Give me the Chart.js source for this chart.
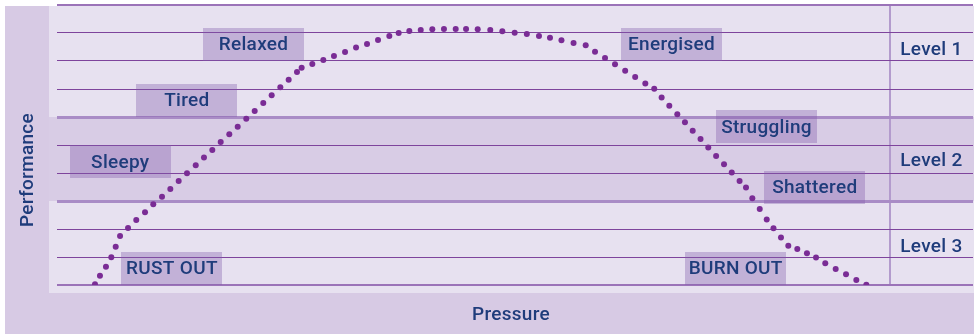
<!DOCTYPE html>
<html>
<head>
<meta charset="utf-8">
<title>Pressure and performance</title>
<script src="https://cdn.jsdelivr.net/npm/chart.js@4.4.1/dist/chart.umd.min.js"></script>
<style>
  html, body { margin: 0; padding: 0; background: #ffffff; }
  #wrap { width: 977px; height: 334px; position: relative; }
</style>
</head>
<body>
<div id="wrap"><canvas id="chart" width="977" height="334"></canvas></div>
<script>
// Pressure / performance curve (dotted), read as x = pressure, y = performance
const curveX = [
  4.56, 5.16, 5.88, 6.52, 7.05, 7.57, 8.53, 9.52, 10.57, 11.56,
  12.61, 13.61, 14.61, 15.61, 16.66, 17.65, 18.65, 19.66, 20.69, 21.70,
  22.73, 23.74, 24.77, 25.78, 26.82, 27.82, 28.82, 29.38, 30.66, 31.98,
  33.26, 34.59, 35.91, 37.23, 38.55, 39.91, 41.03, 42.31, 43.68, 45.07,
  46.47, 47.88, 49.12, 50.52, 52.03, 53.48, 54.96, 56.42, 57.88, 59.20,
  60.58, 62.03, 63.49, 64.61, 65.81, 67.01, 68.23, 69.43, 70.65, 71.72,
  72.61, 73.53, 74.49, 75.41, 76.34, 77.28, 78.21, 79.15, 80.10, 81.03,
  81.97, 82.74, 83.50, 84.39, 85.23, 86.04, 86.94, 87.82, 88.90, 90.06,
  91.15, 92.26, 93.51, 94.75, 95.99, 97.19
];
const curveY = [
  0.03, 0.33, 0.65, 0.99, 1.37, 1.75, 2.04, 2.32, 2.60, 2.88,
  3.15, 3.43, 3.71, 3.99, 4.28, 4.55, 4.82, 5.11, 5.38, 5.65,
  5.94, 6.21, 6.50, 6.78, 7.06, 7.33, 7.61, 7.76, 7.89, 8.04,
  8.18, 8.32, 8.48, 8.61, 8.75, 8.89, 9.00, 9.07, 9.11, 9.13,
  9.14, 9.14, 9.14, 9.13, 9.11, 9.06, 9.01, 8.96, 8.89, 8.83,
  8.74, 8.64, 8.56, 8.33, 8.11, 7.88, 7.65, 7.43, 7.20, 7.01,
  6.70, 6.40, 6.10, 5.81, 5.51, 5.21, 4.91, 4.61, 4.31, 4.02,
  3.71, 3.48, 3.10, 2.71, 2.34, 2.03, 1.70, 1.40, 1.29, 1.13,
  0.98, 0.78, 0.57, 0.38, 0.18, 0.01
];

// State labels placed along the curve (centre of each label, in axis units)
const zoneLabels = ['Relaxed', 'Tired', 'Sleepy', 'RUST OUT', 'Energised', 'Struggling', 'Shattered', 'BURN OUT'];
const zoneX = [23.6, 15.6, 7.6, 13.8, 73.8, 85.2, 91.0, 81.5];
const zoneY = [8.6, 6.6, 4.4, 0.6, 8.6, 5.65, 3.5, 0.6];

// Performance levels on the right-hand column
const levelLabels = ['Level 1', 'Level 2', 'Level 3'];
const levelX = [105, 105, 105];
const levelY = [8.4, 4.45, 1.35];
const levelBounds = [10, 6, 3, 0];   // level 1: 10–6, level 2: 6–3, level 3: 3–0
const levelColumnStart = 100;        // vertical divider before the level column

const xTitle = 'Pressure';
const yTitle = 'Performance';

const TEXT = '#1f3c7b';
const FONT = '500 19px Roboto, "DejaVu Sans", sans-serif';

const panels = {
  id: 'panels',
  beforeDraw(chart) {
    const { ctx, chartArea: a, width, height } = chart;
    const y = chart.scales.y;
    ctx.save();
    ctx.fillStyle = '#ffffff';
    ctx.fillRect(0, 0, width, height);
    // outer frame
    ctx.fillStyle = '#d7cae4';
    ctx.fillRect(5, a.top + 1, width - 8, height - a.top - 1);
    // inner plotting panel
    ctx.fillStyle = '#e7e1f0';
    ctx.fillRect(a.left - 8, a.top + 1, a.right - a.left + 9, a.bottom - a.top + 7);
    // middle level band
    const b1 = y.getPixelForValue(levelBounds[1]);
    const b2 = y.getPixelForValue(levelBounds[2]);
    ctx.fillStyle = '#d8cce5';
    ctx.fillRect(a.left - 8, b1, a.right - a.left + 9, b2 - b1);
    ctx.restore();
  },
  beforeDatasetsDraw(chart) {
    const { ctx } = chart;
    const xs = chart.scales.x, ys = chart.scales.y;
    ctx.save();
    ctx.fillStyle = 'rgba(131, 91, 171, 0.36)';
    zoneLabels.forEach((t, i) => {
      const cx = xs.getPixelForValue(zoneX[i]);
      const cy = ys.getPixelForValue(zoneY[i]);
      ctx.fillRect(Math.round(cx - 50.5), Math.round(cy - 16.5), 101, 33);
    });
    ctx.restore();
  },
  afterDraw(chart) {
    const { ctx } = chart;
    const xs = chart.scales.x, ys = chart.scales.y;
    ctx.save();
    ctx.fillStyle = TEXT;
    ctx.font = FONT;
    ctx.textAlign = 'center';
    ctx.textBaseline = 'middle';
    if ('letterSpacing' in ctx) ctx.letterSpacing = '0.3px';
    zoneLabels.forEach((t, i) => {
      ctx.fillText(t, xs.getPixelForValue(zoneX[i]), ys.getPixelForValue(zoneY[i]) + 1.5);
    });
    levelLabels.forEach((t, i) => {
      ctx.fillText(t, xs.getPixelForValue(levelX[i]), ys.getPixelForValue(levelY[i]) + 0.5);
    });
    ctx.fillText(xTitle, 511, 315);
    ctx.translate(28, 170);
    ctx.rotate(-Math.PI / 2);
    ctx.fillText(yTitle, 0, 0);
    ctx.restore();
  }
};

const points = curveX.map((x, i) => ({ x, y: curveY[i] }));

new Chart(document.getElementById('chart'), {
  type: 'scatter',
  data: {
    datasets: [{
      data: points,
      showLine: false,
      pointRadius: 3,
      pointBackgroundColor: '#7a2c95',
      pointBorderWidth: 0,
      pointHoverRadius: 3
    }]
  },
  options: {
    responsive: false,
    animation: false,
    events: [],
    layout: { padding: { left: 57, right: 4, top: 5, bottom: 49 } },
    plugins: { legend: { display: false }, tooltip: { enabled: false } },
    scales: {
      x: {
        type: 'linear', min: 0, max: 110,
        ticks: { display: false, stepSize: 10 },
        border: { display: false },
        grid: {
          drawTicks: false,
          lineWidth: 2,
          color: c => (c.tick && c.tick.value === levelColumnStart) ? '#b39bcd' : 'rgba(0,0,0,0)'
        }
      },
      y: {
        type: 'linear', min: 0, max: 10,
        ticks: { display: false, stepSize: 1 },
        border: { display: false },
        grid: {
          drawTicks: false,
          lineWidth: c => {
            const v = c.tick ? c.tick.value : -1;
            if (v === 6 || v === 3) return 3;
            if (v === 10 || v === 0) return 2;
            return 1;
          },
          color: c => {
            const v = c.tick ? c.tick.value : -1;
            if (v === 6 || v === 3) return '#a98cc6';
            if (v === 10 || v === 0) return '#9b73b8';
            return '#7e449c';
          }
        }
      }
    }
  },
  plugins: [panels]
});
</script>
</body>
</html>
